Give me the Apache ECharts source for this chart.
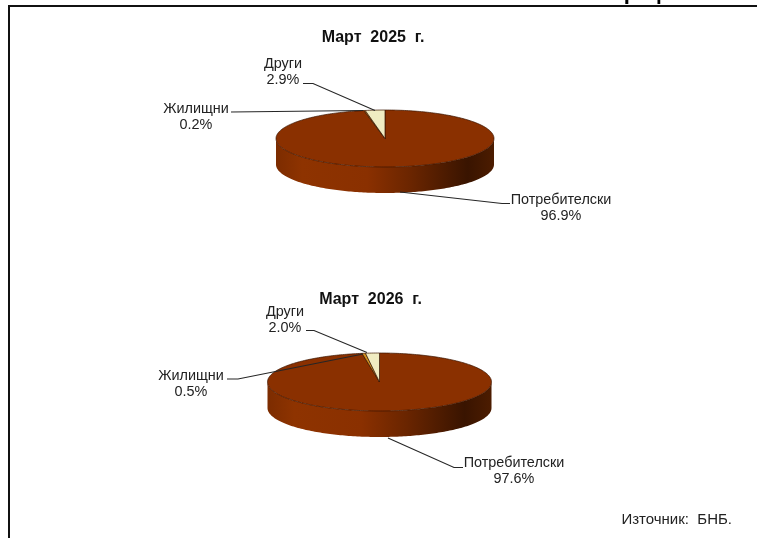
<!DOCTYPE html>
<html><head><meta charset="utf-8">
<style>html,body{margin:0;padding:0;background:#fff}#c{width:757px;height:538px}</style>
<script src="https://cdn.jsdelivr.net/npm/echarts@6/dist/echarts.min.js"></script>
</head><body><div id="c"></div>
<script>
const categories = ['Потребителски', 'Жилищни', 'Други'];
const values2025 = [96.9, 0.2, 2.9];
const values2026 = [97.6, 0.5, 2.0];
const titles = ['Март  2025  г.', 'Март  2026  г.'];
const sourceText = 'Източник:  БНБ.';
const cutHeading = 'Графика';

const sliceColors = ['#8A3000', '#D0901F', '#F0ECC2'];
const FONT = '"Liberation Sans", Arial, sans-serif';
const pieLayouts = [
  { cx: 385, cy: 138.5, rx: 109, ry: 28.5, depth: 26,
    labels: [[561, 208], [196, 117], [283, 72]],
    leaders: [
      [[510, 203.5], [502, 203.5], [400, 192]],
      [[231, 112], [363, 110.5]],
      [[303, 83.5], [313, 83.5], [375, 110.5]]
    ] },
  { cx: 379.5, cy: 382, rx: 112, ry: 29, depth: 26,
    labels: [[514, 471], [191, 384], [285, 320]],
    leaders: [
      [[463, 467.5], [454, 467.5], [388, 438]],
      [[227, 379], [238, 379], [363, 354]],
      [[306, 330.5], [314, 330.5], [367, 352.5]]
    ] }
];

function ellipsePoints(L, from, to, dy) {
  const pts = [], n = Math.max(2, Math.ceil((to - from) / 0.02));
  for (let i = 0; i <= n; i++) {
    const t = from + (to - from) * i / n;
    pts.push([L.cx + L.rx * Math.sin(t), L.cy - L.ry * Math.cos(t) + dy]);
  }
  return pts;
}
function renderSlice(values, L) {
  const total = values.reduce((a, b) => a + b, 0);
  return function (params, api) {
    const i = params.dataIndex;
    let before = 0;
    for (let k = 0; k < i; k++) before += values[k];
    const a0 = before / total * 2 * Math.PI;
    const a1 = (before + api.value(0)) / total * 2 * Math.PI;
    const children = [];
    const f0 = Math.max(a0, Math.PI / 2), f1 = Math.min(a1, 3 * Math.PI / 2);
    if (f1 > f0) {
      const pts = ellipsePoints(L, f0, f1, 0).concat(ellipsePoints(L, f0, f1, L.depth).reverse());
      children.push({ type: 'polygon', shape: { points: pts }, style: {
        fill: { type: 'linear', global: true, x: L.cx - L.rx, y: 0, x2: L.cx + L.rx, y2: 0, colorStops: [
          { offset: 0, color: '#7C2C00' }, { offset: 0.12, color: '#8E3300' },
          { offset: 0.42, color: '#8A3000' }, { offset: 0.62, color: '#6A2500' },
          { offset: 0.88, color: '#391400' }, { offset: 1, color: '#4C1C00' }] },
        stroke: null } });
    }
    const top = ellipsePoints(L, a0, a1, 0);
    top.push([L.cx, L.cy]);
    children.push({ type: 'polygon', shape: { points: top }, style: {
      fill: sliceColors[i], stroke: '#3A1400', lineWidth: 0.7, lineJoin: 'round' } });
    children.push({ type: 'polyline', shape: { points: L.leaders[i] }, style: {
      fill: null, stroke: '#262626', lineWidth: 1.1 } });
    children.push({ type: 'text', x: L.labels[i][0], y: L.labels[i][1], style: {
      text: categories[i] + '\n' + api.value(0).toFixed(1) + '%',
      fill: '#222222', font: '14.4px ' + FONT, lineHeight: 16, align: 'center', verticalAlign: 'middle' } });
    return { type: 'group', children };
  };
}
function pieSeries(name, values, L) {
  return { type: 'custom', name, coordinateSystem: 'none', renderItem: renderSlice(values, L),
    data: values.map(v => [v]), animation: false, silent: true, clip: false };
}

const chart = echarts.init(document.getElementById('c'), null, { renderer: 'canvas' });
chart.setOption({
  animation: false,
  backgroundColor: '#ffffff',
  title: [
    { text: titles[0], left: 368, top: 25, textAlign: 'center', textStyle: { fontFamily: FONT, fontSize: 16, fontWeight: 'bold', color: '#111' } },
    { text: titles[1], left: 365.5, top: 287, textAlign: 'center', textStyle: { fontFamily: FONT, fontSize: 16, fontWeight: 'bold', color: '#111' } }
  ],
  series: [pieSeries('Март 2025', values2025, pieLayouts[0]), pieSeries('Март 2026', values2026, pieLayouts[1])],
  graphic: [
    { type: 'text', silent: true, x: 612, y: 4, style: { text: cutHeading, fill: '#000', font: 'bold 22px ' + FONT, align: 'left', verticalAlign: 'bottom' } },
    { type: 'polyline', silent: true, shape: { points: [[9, 538], [9, 6], [757, 6]] }, style: { fill: null, stroke: '#111', lineWidth: 2 } },
    { type: 'text', silent: true, x: 732, y: 520, style: { text: sourceText, fill: '#222', font: '15px ' + FONT, align: 'right', verticalAlign: 'middle' } }
  ]
});
</script></body></html>
